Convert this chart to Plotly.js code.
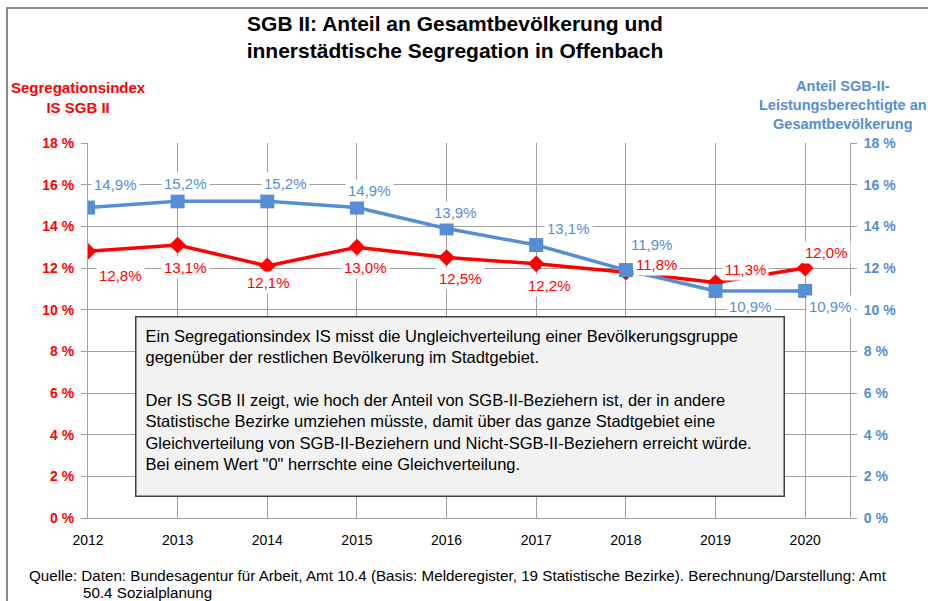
<!DOCTYPE html>
<html>
<head>
<meta charset="utf-8">
<script src="https://cdn.plot.ly/plotly-3.0.1.min.js"></script>
<style>
  html, body { margin: 0; padding: 0; background: #ffffff; }
  #chart { width: 928px; height: 601px; }
</style>
</head>
<body>
<div id="chart"></div>
<script>
// ---- data ----
const years = ["2012", "2013", "2014", "2015", "2016", "2017", "2018", "2019", "2020"];
const segregationIndex = [12.8, 13.1, 12.1, 13.0, 12.5, 12.2, 11.8, 11.3, 12.0];
const sgbShare = [14.9, 15.2, 15.2, 14.9, 13.9, 13.1, 11.9, 10.9, 10.9];
const yTickValues = [0, 2, 4, 6, 8, 10, 12, 14, 16, 18];
const yTickLabels = ["0 %", "2 %", "4 %", "6 %", "8 %", "10 %", "12 %", "14 %", "16 %", "18 %"];

const titleText = "SGB II: Anteil an Gesamtbevölkerung und<br>innerstädtische Segregation in Offenbach";
const leftAxisTitle = "Segregationsindex<br>IS SGB II";
const rightAxisTitle = "Anteil SGB-II-<br>Leistungsberechtigte an<br>Gesamtbevölkerung";
const noteText = "Ein Segregationsindex IS misst die Ungleichverteilung einer Bevölkerungsgruppe<br>" +
  "gegenüber der restlichen Bevölkerung im Stadtgebiet.<br><br>" +
  "Der IS SGB II zeigt, wie hoch der Anteil von SGB-II-Beziehern ist, der in andere<br>" +
  "Statistische Bezirke umziehen müsste, damit über das ganze Stadtgebiet eine<br>" +
  "Gleichverteilung von SGB-II-Beziehern und Nicht-SGB-II-Beziehern erreicht würde.<br>" +
  "Bei einem Wert \"0\" herrschte eine Gleichverteilung.";
const sourceLine1 = "Quelle: Daten: Bundesagentur für Arbeit, Amt 10.4 (Basis: Melderegister, 19 Statistische Bezirke). Berechnung/Darstellung: Amt";
const sourceLine2 = "50.4 Sozialplanung";

// ---- label placement (pixel offsets from the point: right, down) ----
const redLabelOffset = [[32, 24], [8, 22], [1, 17], [9, 20], [14, 21], [13, 22], [31, -8], [30, -13], [21, -16]];
const blueLabelOffset = [[27, -23], [8, -18], [18, -18], [13, -17], [9, -16], [32, -17], [26, -26], [35, 16], [25, 16]];

// ---- styling ----
const RED = "#FF0000";
const BLUE = "#558ED5";
const GRID = "#A0A0A0";
const FONT = "'Liberation Sans', Arial, sans-serif";

const W = 928, H = 601;
const M = { l: 88, r: 78, t: 143, b: 83 };
const plotW = W - M.l - M.r, plotH = H - M.t - M.b;
const px = x => (x - M.l) / plotW;
const py = y => (H - M.b - y) / plotH;

const fmt = v => v.toFixed(1).replace(".", ",") + "%";

const traces = [
  {
    x: years, y: segregationIndex, type: "scatter", mode: "lines+markers",
    name: "Segregationsindex IS SGB II", yaxis: "y",
    line: { color: RED, width: 3.5 },
    marker: { symbol: "diamond", size: 13, color: RED },
    hoverinfo: "skip"
  },
  {
    x: years, y: sgbShare, type: "scatter", mode: "lines+markers",
    name: "Anteil SGB-II-Leistungsberechtigte", yaxis: "y2",
    line: { color: BLUE, width: 3.5 },
    marker: { symbol: "square", size: 14, color: BLUE },
    hoverinfo: "skip"
  }
];

const annotations = [];
segregationIndex.forEach((v, i) => {
  annotations.push({
    x: i, y: v, xref: "x", yref: "y", text: fmt(v), showarrow: false,
    xshift: redLabelOffset[i][0], yshift: -redLabelOffset[i][1],
    font: { family: FONT, size: 15, color: RED },
    bgcolor: "#ffffff", borderpad: 2
  });
});
sgbShare.forEach((v, i) => {
  annotations.push({
    x: i, y: v, xref: "x", yref: "y2", text: fmt(v), showarrow: false,
    xshift: blueLabelOffset[i][0], yshift: -blueLabelOffset[i][1],
    font: { family: FONT, size: 15, color: BLUE },
    bgcolor: "#ffffff", borderpad: 2
  });
});

// explanatory box
annotations.push({
  xref: "paper", yref: "paper", x: px(460), y: py(406.5),
  xanchor: "center", yanchor: "middle", showarrow: false,
  text: noteText, align: "left", valign: "top", width: 629, height: 160,
  bgcolor: "#F2F2F2", bordercolor: "#404040", borderwidth: 1.5, borderpad: 9,
  font: { family: FONT, size: 16.5, color: "#000000" }
});

// axis titles
annotations.push({
  xref: "paper", yref: "paper", x: px(78), y: py(98),
  xanchor: "center", yanchor: "middle", showarrow: false,
  text: "<b>" + leftAxisTitle + "</b>", align: "center",
  font: { family: FONT, size: 15, color: RED }
});
annotations.push({
  xref: "paper", yref: "paper", x: px(843), y: py(105),
  xanchor: "center", yanchor: "middle", showarrow: false,
  text: "<b>" + rightAxisTitle + "</b>", align: "center",
  font: { family: FONT, size: 14.5, color: BLUE }
});

// source
annotations.push({
  xref: "paper", yref: "paper", x: px(27), y: py(575),
  xanchor: "left", yanchor: "middle", showarrow: false,
  text: sourceLine1, align: "left",
  font: { family: FONT, size: 15.2, color: "#000000" }
});
annotations.push({
  xref: "paper", yref: "paper", x: px(81), y: py(592),
  xanchor: "left", yanchor: "middle", showarrow: false,
  text: sourceLine2, align: "left",
  font: { family: FONT, size: 15.2, color: "#000000" }
});

const shapes = [
  { type: "line", xref: "paper", yref: "paper", x0: px(7), x1: px(7), y0: py(610), y1: py(8),
    line: { color: "#8C8C8C", width: 2 } },
  { type: "line", xref: "paper", yref: "paper", x0: px(6), x1: px(935), y0: py(8), y1: py(8),
    line: { color: "#8C8C8C", width: 2 } }
];

const layout = {
  width: W, height: H,
  margin: { l: M.l, r: M.r, t: M.t, b: M.b, pad: 0 },
  paper_bgcolor: "#ffffff", plot_bgcolor: "#ffffff",
  showlegend: false,
  title: {
    text: "<b>" + titleText + "</b>",
    x: 455 / W, xanchor: "center", xref: "container",
    y: 1 - 31 / H, yanchor: "top", yref: "container",
    font: { family: FONT, size: 21, color: "#000000" }
  },
  xaxis: {
    type: "category", range: [0, 8.5],
    showgrid: true, gridcolor: GRID, gridwidth: 1,
    showline: true, linecolor: GRID, linewidth: 1,
    ticks: "", ticklabelstandoff: 9,
    tickfont: { family: FONT, size: 14, color: "#000000" },
    zeroline: false, fixedrange: true
  },
  yaxis: {
    range: [0, 18], tickvals: yTickValues, ticktext: yTickLabels,
    showgrid: true, gridcolor: GRID, gridwidth: 1,
    showline: true, linecolor: GRID, linewidth: 1,
    ticks: "outside", ticklen: 6, tickcolor: GRID, ticklabelstandoff: 4,
    tickfont: { family: FONT, size: 14, color: RED, weight: "bold" },
    zeroline: false, fixedrange: true
  },
  yaxis2: {
    range: [0, 18], tickvals: yTickValues, ticktext: yTickLabels,
    overlaying: "y", side: "right",
    showgrid: false,
    showline: true, linecolor: GRID, linewidth: 1,
    ticks: "outside", ticklen: 6, tickcolor: GRID, ticklabelstandoff: 4,
    tickfont: { family: FONT, size: 14, color: BLUE, weight: "bold" },
    zeroline: false, fixedrange: true
  },
  annotations: annotations,
  shapes: shapes
};

Plotly.newPlot("chart", traces, layout, { staticPlot: true, displayModeBar: false });
</script>
</body>
</html>
